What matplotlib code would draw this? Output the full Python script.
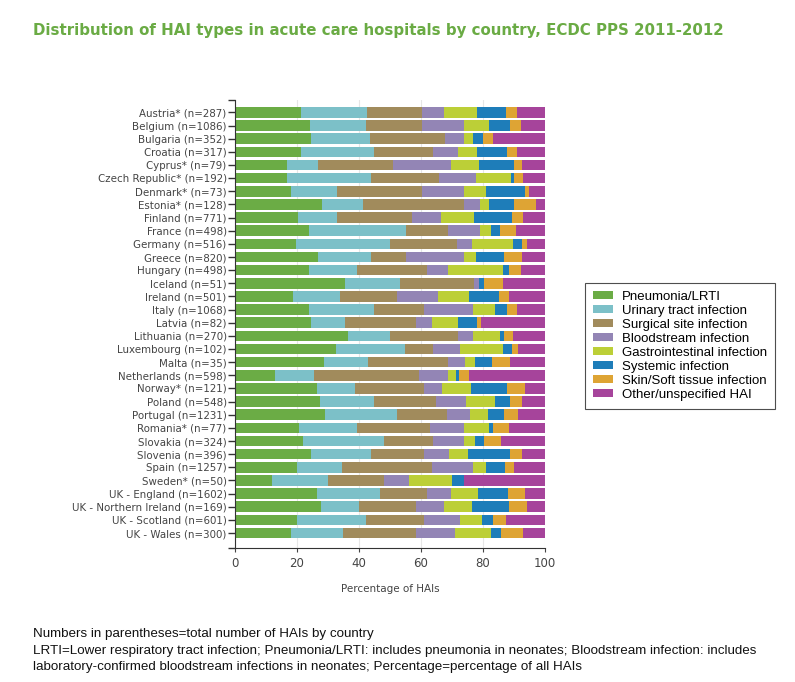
import numpy as np
import matplotlib
matplotlib.use('Agg')
import matplotlib.pyplot as plt
from matplotlib.ticker import FixedLocator

countries = ['Austria* (n=287)', 'Belgium (n=1086)', 'Bulgaria (n=352)', 'Croatia (n=317)',
             'Cyprus* (n=79)', 'Czech Republic* (n=192)', 'Denmark* (n=73)', 'Estonia* (n=128)',
             'Finland (n=771)', 'France (n=498)', 'Germany (n=516)', 'Greece (n=820)',
             'Hungary (n=498)', 'Iceland (n=51)', 'Ireland (n=501)', 'Italy (n=1068)',
             'Latvia (n=82)', 'Lithuania (n=270)', 'Luxembourg (n=102)', 'Malta (n=35)',
             'Netherlands (n=598)', 'Norway* (n=121)', 'Poland (n=548)', 'Portugal (n=1231)',
             'Romania* (n=77)', 'Slovakia (n=324)', 'Slovenia (n=396)', 'Spain (n=1257)',
             'Sweden* (n=50)', 'UK - England (n=1602)', 'UK - Northern Ireland (n=169)',
             'UK - Scotland (n=601)', 'UK - Wales (n=300)']

# percentages, one list per HAI type, in country order
pneumonia = [21.3, 24.3, 24.4, 21.3, 16.7, 16.7, 18.0, 28.0, 20.4, 24.0, 19.7, 26.7, 24.0, 35.5,
             18.8, 24.0, 24.4, 36.6, 32.6, 28.7, 12.9, 26.3, 27.4, 29.0, 20.6, 22.0, 24.5, 20.1,
             11.8, 26.3, 27.7, 20.1, 18.1]
urinary = [21.2, 18.0, 19.1, 23.5, 10.0, 27.3, 15.0, 13.4, 12.4, 31.0, 30.3, 17.2, 15.2, 17.7,
           15.1, 20.8, 11.1, 13.4, 22.2, 14.1, 12.7, 12.4, 17.5, 23.2, 18.6, 26.2, 19.4, 14.3,
           18.1, 20.5, 12.3, 22.1, 16.6]
surgical = [17.7, 17.9, 24.2, 18.9, 24.2, 21.8, 27.4, 32.5, 24.2, 13.6, 21.7, 11.1, 22.6, 24.0,
            18.3, 16.2, 22.9, 22.0, 8.9, 26.0, 33.8, 22.4, 19.9, 16.1, 23.7, 15.8, 16.9, 29.0,
            18.2, 15.0, 18.4, 18.6, 23.7]
bloodstream = [7.3, 13.8, 6.3, 8.1, 18.7, 11.9, 13.6, 5.1, 9.3, 10.4, 4.6, 18.7, 6.8, 1.5,
               13.4, 15.9, 5.0, 4.9, 8.9, 5.4, 9.4, 5.8, 9.6, 7.5, 11.1, 10.0, 8.3, 13.2,
               8.1, 7.8, 9.1, 11.8, 12.4]
gastro = [10.5, 8.0, 2.9, 6.2, 9.0, 11.3, 7.0, 3.0, 10.9, 3.6, 13.5, 4.0, 17.7, 0.0,
          10.0, 6.8, 8.6, 8.6, 13.7, 3.2, 2.4, 9.1, 9.3, 5.9, 8.0, 3.4, 6.0, 4.4,
          13.7, 8.9, 8.8, 7.0, 11.8]
systemic = [9.4, 6.7, 3.2, 9.6, 11.5, 1.0, 12.5, 8.1, 12.0, 2.9, 2.8, 8.9, 2.2, 1.7,
            9.6, 4.1, 6.0, 1.3, 2.9, 5.6, 1.2, 11.8, 5.0, 4.9, 1.3, 2.9, 13.6, 6.1,
            4.1, 9.7, 12.2, 3.7, 3.1]
skin = [3.6, 3.5, 3.0, 3.4, 2.5, 2.8, 1.3, 7.0, 3.6, 5.0, 1.5, 6.0, 3.7, 5.9,
        3.3, 3.2, 1.2, 3.0, 2.1, 5.7, 3.2, 5.6, 3.8, 4.8, 5.2, 5.5, 3.8, 3.0,
        0.0, 5.3, 5.6, 4.1, 7.3]
other = [9.0, 7.8, 16.9, 9.0, 7.4, 7.2, 5.2, 2.9, 7.2, 9.5, 5.9, 7.4, 7.8, 13.7,
         11.5, 9.0, 20.8, 10.2, 8.7, 11.3, 24.4, 6.6, 7.5, 8.6, 11.5, 14.2, 7.5, 9.9,
         26.0, 6.5, 5.9, 12.6, 7.0]

series = [pneumonia, urinary, surgical, bloodstream, gastro, systemic, skin, other]
names = ['Pneumonia/LRTI', 'Urinary tract infection', 'Surgical site infection',
         'Bloodstream infection', 'Gastrointestinal infection', 'Systemic infection',
         'Skin/Soft tissue infection', 'Other/unspecified HAI']
colors = ['#6bac45', '#7cc0c8', '#a18b5c', '#9385b5', '#bccf37', '#1e7db9', '#dea434', '#a6449b']

fig = plt.figure(figsize=(7.95, 6.82), dpi=100)
ax = fig.add_axes([0.2956, 0.1965, 0.39, 0.6569])

y = np.arange(len(countries))
left = np.zeros(len(countries))
for vals, name, col in zip(series, names, colors):
    vals = np.array(vals)
    ax.barh(y, vals, left=left, height=0.8, color=col, label=name, linewidth=0)
    left += vals

ymax = len(countries) - 1 + 1.14
ax.set_ylim(ymax, -0.95)
ax.set_xlim(0, 100)
ax.set_yticks(y)
ax.set_yticklabels(countries, fontsize=7.4, color='#444444')
ax.yaxis.set_minor_locator(FixedLocator([-0.95, ymax]))
ax.tick_params(axis='y', which='both', length=5, width=1, color='#333333', pad=1)
ax.set_xticks([0, 20, 40, 60, 80, 100])
ax.tick_params(axis='x', labelsize=8.5, colors='#444444', length=3, labelcolor='#444444')
ax.set_xlabel('Percentage of HAIs', fontsize=7.5, color='#444444', labelpad=10)
ax.grid(axis='x', color='#e6e6e6', linewidth=0.8)
ax.set_axisbelow(True)
for s in ['top', 'right']:
    ax.spines[s].set_visible(False)
for s in ['left', 'bottom']:
    ax.spines[s].set_color('#333333')

leg = fig.legend(loc='upper left', bbox_to_anchor=(0.736, 0.585), frameon=True, fancybox=False,
                 prop={'family': 'Liberation Sans', 'size': 9.5}, handlelength=1.5, handleheight=0.6,
                 labelspacing=0.15, borderpad=0.6, borderaxespad=0, handletextpad=0.7)
leg.get_frame().set_edgecolor('#222222')
leg.get_frame().set_linewidth(0.8)

fig.text(0.041, 0.956, 'Distribution of HAI types in acute care hospitals by country, ECDC PPS 2011-2012',
         fontsize=10.85, fontweight='bold', color='#6aab44', va='center')

notes = ['Numbers in parentheses=total number of HAIs by country',
         'LRTI=Lower respiratory tract infection; Pneumonia/LRTI: includes pneumonia in neonates; Bloodstream infection: includes',
         'laboratory-confirmed bloodstream infections in neonates; Percentage=percentage of all HAIs']
for i, line in enumerate(notes):
    fig.text(0.041, 0.070 - i * 0.0242, line, fontsize=9.65, family='Liberation Sans',
             color='#111111', va='center')

plt.savefig('out.png', dpi=100)
